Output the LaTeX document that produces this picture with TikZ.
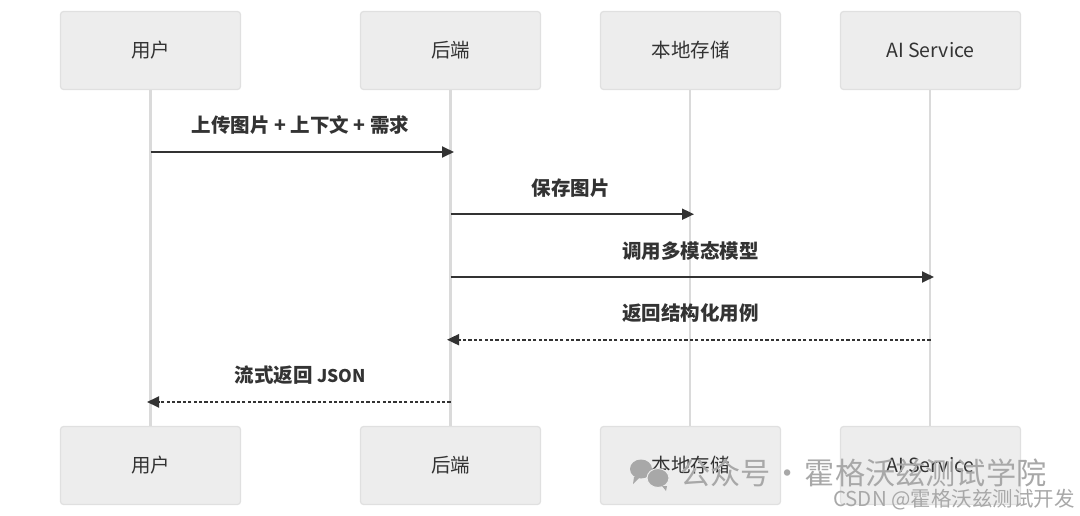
\documentclass[tikz,border=0pt]{standalone}
\usepackage{fontspec}
\setmainfont{Noto Sans CJK SC}
\usetikzlibrary{arrows.meta}
\definecolor{boxfill}{HTML}{EDEDED}
\definecolor{boxline}{HTML}{E0E0E0}
\definecolor{lifeline}{HTML}{DADADA}
\definecolor{ink}{HTML}{333333}
\definecolor{wm}{HTML}{A8A8A8}
\tikzset{
  actor/.style={draw=boxline,fill=boxfill,line width=1.2pt,rounded corners=3pt,minimum width=180pt,minimum height=78pt,inner sep=0pt,text=ink,font=\fontsize{19.5}{19.5}\selectfont},
  life/.style={draw=lifeline,line width=2.4pt},
  msg/.style={draw=ink,line width=1.8pt,-{Triangle[length=12pt,width=11pt]}},
  reply/.style={msg,dash pattern=on 3.2pt off 2.2pt},
  msglabel/.style={text=ink,inner sep=0pt,font=\fontsize{19.5}{19.5}\selectfont\bfseries},
  wmark/.style={text=wm,inner sep=0pt,anchor=base west},
}
\begin{document}
\begin{tikzpicture}[x=1pt,y=-1pt]
\useasboundingbox (0,0) rectangle (1080,516);
\fill[white] (0,0) rectangle (1080,516);
% lifelines drawn first
\coordinate (t1) at (150.5,90); \coordinate (b1) at (150.5,426);
\coordinate (t2) at (450.5,90); \coordinate (b2) at (450.5,426);
\coordinate (t3) at (690,90); \coordinate (b3) at (690,426);
\coordinate (t4) at (930,90); \coordinate (b4) at (930,426);
\draw[life] (t1) -- (b1);
\draw[life] (t2) -- (b2);
\draw[life] (t3) -- (b3);
\draw[life] (t4) -- (b4);
% top actors
\node[actor] (u) at (150.5,50.5) {\raisebox{-1pt}{用户}};
\node[actor] (s) at (450.5,50.5) {\raisebox{-1pt}{后端}};
\node[actor] (d) at (690.5,50.5) {\raisebox{-1pt}{本地存储}};
\node[actor] (a) at (930.5,50.5) {\raisebox{-1pt}{AI Service}};
% bottom actors
\node[actor] (ub) at (150.5,465.5) {\raisebox{-1pt}{用户}};
\node[actor] (sb) at (450.5,465.5) {\raisebox{-1pt}{后端}};
\node[actor] (db) at (690.5,465.5) {\raisebox{-1pt}{本地存储}};
\node[actor] (ab) at (930.5,465.5) {\raisebox{-1pt}{AI Service}};
% messages
\coordinate (m1a) at (150.5,152); \coordinate (m1b) at (454,152);
\coordinate (m2a) at (450.5,214.2); \coordinate (m2b) at (694,214.2);
\coordinate (m3a) at (450.5,277); \coordinate (m3b) at (934,277);
\coordinate (m4a) at (930.5,339.7); \coordinate (m4b) at (447,339.7);
\coordinate (m5a) at (450.5,402); \coordinate (m5b) at (147,402);
\draw[msg] (m1a) -- (m1b);
\draw[msg] (m2a) -- (m2b);
\draw[msg] (m3a) -- (m3b);
\draw[reply] (m4a) -- (m4b);
\draw[reply] (m5a) -- (m5b);
\node[msglabel] (l1) at (300.5,125.5) {上传图片 + 上下文 + 需求};
\node[msglabel] (l2) at (570.5,188.5) {保存图片};
\node[msglabel] (l3) at (690.5,251) {调用多模态模型};
\node[msglabel] (l4) at (690.5,313.5) {返回结构化用例};
\node[msglabel] (l5) at (300.5,375.5) {流式返回 {\fontsize{17.5}{17.5}\selectfont JSON}};
% watermark
\fill[wm] (641,469) ellipse (11pt and 9.5pt);
\fill[wm] (634,477) -- (640,477) -- (633,484) -- cycle;
\fill[wm,draw=boxfill,line width=1pt] (658,478) ellipse (11pt and 9.5pt);
\fill[wm] (662,486) -- (667,486) -- (666,491) -- cycle;
\node[wmark] (w1) at (680,484) {\fontsize{30.2}{30.2}\selectfont 公众号\kern2pt·\kern2pt 霍格沃兹测试学院};
\node[wmark] (w2) at (833,506) {\fontsize{20.5}{20.5}\selectfont CSDN @霍格沃兹测试开发};
\end{tikzpicture}
\end{document}
